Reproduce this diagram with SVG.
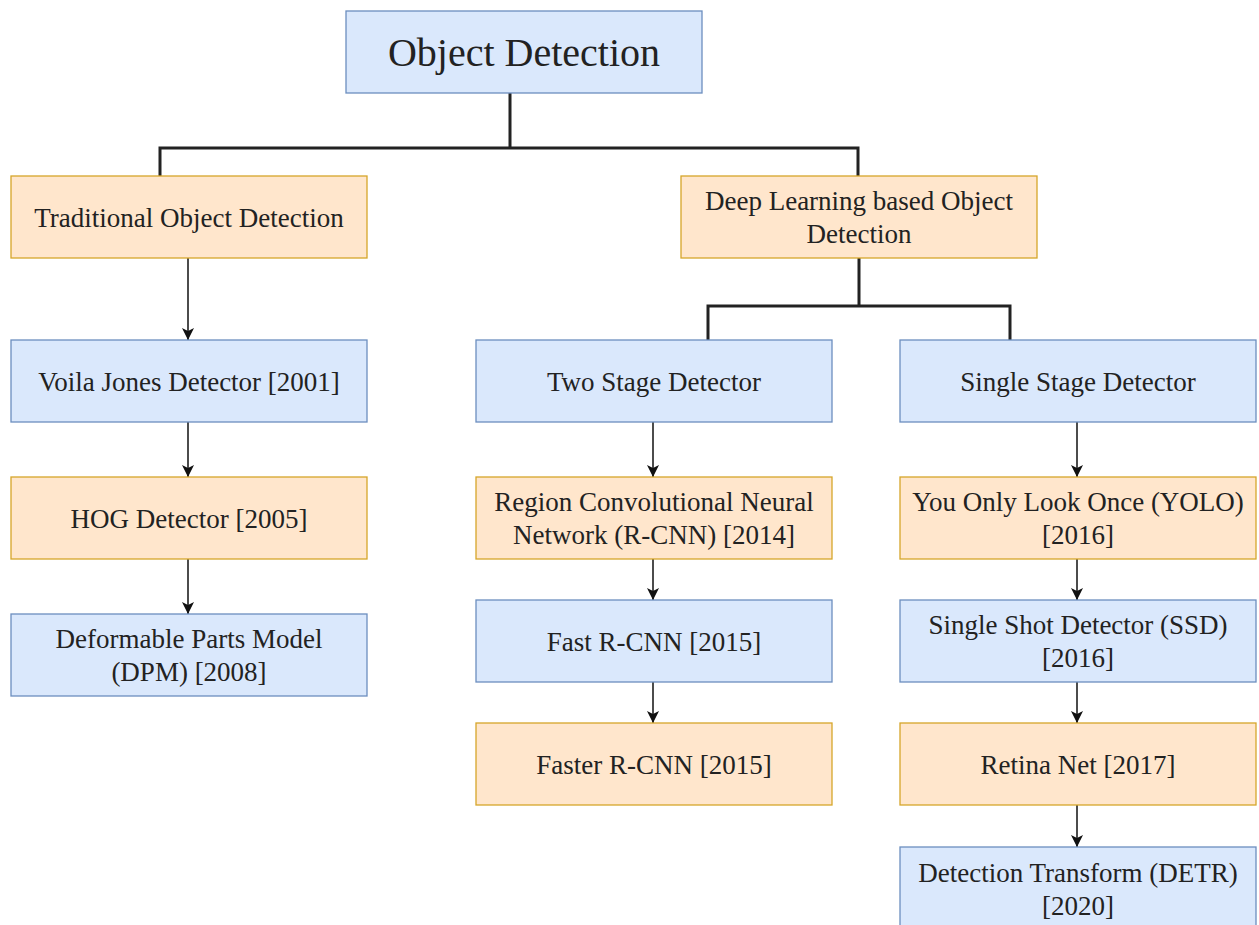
<svg xmlns="http://www.w3.org/2000/svg" width="1259" height="925" viewBox="0 0 1259 925">
<defs>
<style>
.blue{fill:#dae8fc;stroke:#6c8ebf;stroke-width:1.3}
.orange{fill:#ffe6cc;stroke:#d6a62a;stroke-width:1.3}
text{font-family:'Liberation Serif',Tinos,'Times New Roman','DejaVu Serif','Noto Serif',serif;font-size:27px;fill:#222;text-anchor:middle}
.title{font-size:40px}
.bracket{fill:none;stroke:#222;stroke-width:3}
.arrow{fill:none;stroke:#111;stroke-width:1.5;marker-end:url(#ah)}
</style>
<marker id="ah" viewBox="0 0 10 10" refX="10" refY="5" markerWidth="12" markerHeight="12" markerUnits="userSpaceOnUse" orient="auto">
<path d="M0,0 L10,5 L0,10 L2.5,5 Z" fill="#111"/>
</marker>
</defs>
<rect width="1259" height="925" fill="#fff"/>
<g id="connectors">
<path class="bracket" d="M510,93 V148 M160,176 V148 H858 V176"/>
<path class="bracket" d="M859,258 V306 M708,340 V306 H1010 V340"/>
<path class="arrow" d="M188,258 V340"/>
<path class="arrow" d="M188,422 V477"/>
<path class="arrow" d="M188,559 V614"/>
<path class="arrow" d="M653,422 V477"/>
<path class="arrow" d="M653,559 V600"/>
<path class="arrow" d="M653,682 V723"/>
<path class="arrow" d="M1077,422 V477"/>
<path class="arrow" d="M1077,559 V600"/>
<path class="arrow" d="M1077,682 V723"/>
<path class="arrow" d="M1077,805 V847"/>
</g>
<g id="n-root"><rect class="blue" x="346" y="11" width="356" height="82"/><text class="title" x="524" y="66">Object Detection</text></g>
<g id="n-traditional"><rect class="orange" x="11" y="176" width="356" height="82"/><text x="189" y="227">Traditional Object Detection</text></g>
<g id="n-deep"><rect class="orange" x="681" y="176" width="356" height="82"/><text x="859" y="210">Deep Learning based Object</text><text x="859" y="243">Detection</text></g>
<g id="n-voila"><rect class="blue" x="11" y="340" width="356" height="82"/><text x="189" y="391">Voila Jones Detector [2001]</text></g>
<g id="n-hog"><rect class="orange" x="11" y="477" width="356" height="82"/><text x="189" y="528">HOG Detector [2005]</text></g>
<g id="n-dpm"><rect class="blue" x="11" y="614" width="356" height="82"/><text x="189" y="648">Deformable Parts Model</text><text x="189" y="681">(DPM) [2008]</text></g>
<g id="n-two"><rect class="blue" x="476" y="340" width="356" height="82"/><text x="654" y="391">Two Stage Detector</text></g>
<g id="n-rcnn"><rect class="orange" x="476" y="477" width="356" height="82"/><text x="654" y="511">Region Convolutional Neural</text><text x="654" y="544">Network (R-CNN) [2014]</text></g>
<g id="n-fast"><rect class="blue" x="476" y="600" width="356" height="82"/><text x="654" y="651">Fast R-CNN [2015]</text></g>
<g id="n-faster"><rect class="orange" x="476" y="723" width="356" height="82"/><text x="654" y="774">Faster R-CNN [2015]</text></g>
<g id="n-single"><rect class="blue" x="900" y="340" width="356" height="82"/><text x="1078" y="391">Single Stage Detector</text></g>
<g id="n-yolo"><rect class="orange" x="900" y="477" width="356" height="82"/><text x="1078" y="511">You Only Look Once (YOLO)</text><text x="1078" y="544">[2016]</text></g>
<g id="n-ssd"><rect class="blue" x="900" y="600" width="356" height="82"/><text x="1078" y="634">Single Shot Detector (SSD)</text><text x="1078" y="667">[2016]</text></g>
<g id="n-retina"><rect class="orange" x="900" y="723" width="356" height="82"/><text x="1078" y="774">Retina Net [2017]</text></g>
<g id="n-detr"><rect class="blue" x="900" y="847" width="356" height="82"/><text x="1078" y="882">Detection Transform (DETR)</text><text x="1078" y="915">[2020]</text></g>
</svg>
